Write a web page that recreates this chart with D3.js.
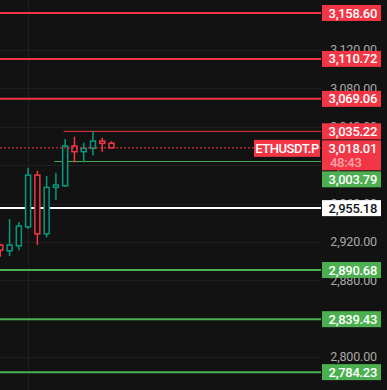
<!DOCTYPE html>
<html>
<head>
<meta charset="utf-8">
<script src="https://cdn.jsdelivr.net/npm/d3@7"></script>
<style>
html, body { margin: 0; padding: 0; background: #121212; overflow: hidden; }
svg { display: block; }
</style>
</head>
<body>
<div id="chart"></div>
<script>
// candles, oldest first (last one is the live candle)
var opens  = [2916.7, 2910.7, 2915.9, 2935.7, 2989.6, 2928.4, 2976.8, 2978.5, 3019.9, 3014.0, 3017.5, 3025.1, 3022.7];
var highs  = [2918.0, 2943.8, 2940.6, 2997.3, 2994.1, 2988.6, 2992.0, 3027.2, 3029.6, 3023.3, 3035.22, 3028.5, 3025.1];
var lows   = [2904.5, 2905.2, 2911.4, 2933.3, 2916.7, 2924.7, 2963.6, 2977.4, 3002.9, 3002.9, 3010.0, 3014.0, 3018.01];
var closes = [2911.4, 2916.7, 2936.5, 2989.6, 2928.4, 2976.8, 2979.2, 3019.9, 3014.0, 3017.5, 3025.1, 3022.7, 3018.01];

// horizontal levels
var resistanceLevels = [3158.60, 3110.72, 3069.06];
var supportLevels = [2890.68, 2839.43, 2784.23];
var pivotLevel = 2955.18;
var rangeHigh = 3035.22, rangeHighFrom = 7;   // starts at candle index
var rangeLow = 3003.79, rangeLowFrom = 6;

var lastPrice = 3018.01;
var countdown = "48:43";
var symbol = "ETHUSDT.P";

var tickValues = [3120, 3080, 3040, 3000, 2960, 2920, 2880, 2840, 2800];
var timeTickIndex = [3];

var W = 387, H = 390, plotRight = 321;
var red = "#f23645", green = "#4caf50", teal = "#089981", bg = "#121212";

var svg = d3.select("#chart").append("svg")
    .attr("width", W).attr("height", H)
    .style("font-family", "Roboto, 'Liberation Sans', sans-serif");

svg.append("rect").attr("width", W).attr("height", H).attr("fill", bg);

var x = d3.scaleLinear().domain([0, 12]).range([0.3, 111.5]);
var y = d3.scaleLinear().domain([2800, 3120]).range([357, 50]);

var fmt = d3.format(",.2f");

// grid
svg.selectAll(".hgrid").data(tickValues).enter().append("line")
    .attr("x1", 0).attr("x2", plotRight)
    .attr("y1", function(d){ return Math.round(y(d)) + 0.5; })
    .attr("y2", function(d){ return Math.round(y(d)) + 0.5; })
    .attr("stroke", "#1f1f1f").attr("stroke-width", 1);

svg.selectAll(".vgrid").data(timeTickIndex).enter().append("line")
    .attr("x1", function(d){ return Math.round(x(d)) + 0.5; })
    .attr("x2", function(d){ return Math.round(x(d)) + 0.5; })
    .attr("y1", 0).attr("y2", H)
    .attr("stroke", "#1f1f1f").attr("stroke-width", 1);

// axis tick labels
svg.selectAll(".tick").data(tickValues).enter().append("text")
    .attr("x", 377).attr("y", function(d){ return y(d); })
    .attr("dy", "0.35em").attr("text-anchor", "end")
    .attr("font-size", 12.5).attr("letter-spacing", -0.15).attr("fill", "#a8a8a8")
    .text(function(d){ return fmt(d); });

// full-width levels
var fullLevels = resistanceLevels.map(function(v){ return {v: v, c: red}; })
    .concat([{v: pivotLevel, c: "#ffffff"}])
    .concat(supportLevels.map(function(v){ return {v: v, c: green}; }));

svg.selectAll(".level").data(fullLevels).enter().append("line")
    .attr("x1", 0).attr("x2", plotRight)
    .attr("y1", function(d){ return y(d.v); })
    .attr("y2", function(d){ return y(d.v); })
    .attr("stroke", function(d){ return d.c; })
    .attr("stroke-width", 2);

// range lines
svg.append("line")
    .attr("x1", x(rangeHighFrom) - 1.5).attr("x2", plotRight)
    .attr("y1", y(rangeHigh)).attr("y2", y(rangeHigh))
    .attr("stroke", red).attr("stroke-width", 1);
svg.append("line")
    .attr("x1", x(rangeLowFrom) - 1.5).attr("x2", plotRight)
    .attr("y1", y(rangeLow)).attr("y2", y(rangeLow))
    .attr("stroke", green).attr("stroke-width", 1);

// candles
var candles = opens.map(function(o, i){
    return {i: i, o: o, h: highs[i], l: lows[i], c: closes[i]};
});
var col = function(d){ return d.c >= d.o ? teal : red; };

var g = svg.append("g");
g.selectAll(".wick").data(candles).enter().append("line")
    .attr("x1", function(d){ return x(d.i); })
    .attr("x2", function(d){ return x(d.i); })
    .attr("y1", function(d){ return y(d.h); })
    .attr("y2", function(d){ return y(d.l); })
    .attr("stroke", col).attr("stroke-width", 1.5);

g.selectAll(".body").data(candles).enter().append("rect")
    .attr("x", function(d){ return x(d.i) - 2.5; })
    .attr("width", 5)
    .attr("y", function(d){ return y(Math.max(d.o, d.c)); })
    .attr("height", function(d){ return Math.max(1, Math.abs(y(d.o) - y(d.c))); })
    .attr("fill", bg).attr("stroke", col).attr("stroke-width", 1.5);

// last price dotted line
svg.append("line")
    .attr("x1", 0).attr("x2", plotRight)
    .attr("y1", y(lastPrice)).attr("y2", y(lastPrice))
    .attr("stroke", red).attr("stroke-width", 1)
    .attr("stroke-dasharray", "2,2");

// symbol label
svg.append("rect")
    .attr("x", 254).attr("y", y(lastPrice) - 8).attr("width", 66).attr("height", 17)
    .attr("fill", red);
svg.append("text")
    .attr("x", 287).attr("y", y(lastPrice) + 0.5).attr("dy", "0.35em")
    .attr("text-anchor", "middle").attr("font-size", 13).attr("font-weight", 500)
    .attr("letter-spacing", -0.45).attr("fill", "#fff")
    .text(symbol);

// price badges on the axis
var badges = resistanceLevels.map(function(v){ return {v: v, fill: red, color: "#fff", h: 16}; })
    .concat([
        {v: rangeHigh, fill: red, color: "#fff", h: 16},
        {v: lastPrice, fill: red, color: "#fff", h: 30, extra: countdown},
        {v: rangeLow, fill: green, color: "#fff", h: 16},
        {v: pivotLevel, fill: "#ffffff", color: "#131722", h: 16}
    ])
    .concat(supportLevels.map(function(v){ return {v: v, fill: green, color: "#fff", h: 16}; }));

badges.sort(function(a, b){ return y(a.v) - y(b.v); });
var prevBottom = -Infinity;
badges.forEach(function(b){
    b.top = Math.max(y(b.v) - 8, prevBottom + 1);
    prevBottom = b.top + b.h;
});

var bg2 = svg.selectAll(".badge").data(badges).enter().append("g");
bg2.append("rect")
    .attr("x", 322).attr("width", 59)
    .attr("y", function(d){ return d.top; })
    .attr("height", function(d){ return d.h; })
    .attr("fill", function(d){ return d.fill; });
bg2.append("text")
    .attr("x", 377).attr("y", function(d){ return d.top + 8; })
    .attr("dy", "0.35em").attr("text-anchor", "end")
    .attr("font-size", 13).attr("font-weight", 500).attr("letter-spacing", -0.3)
    .attr("fill", function(d){ return d.color; })
    .text(function(d){ return fmt(d.v); });
bg2.filter(function(d){ return d.extra; }).append("text")
    .attr("x", 330).attr("y", function(d){ return d.top + 22; })
    .attr("dy", "0.35em")
    .attr("font-size", 13).attr("font-weight", 500).attr("letter-spacing", -0.3)
    .attr("fill", "#f9a3ab")
    .text(function(d){ return d.extra; });
</script>
</body>
</html>
